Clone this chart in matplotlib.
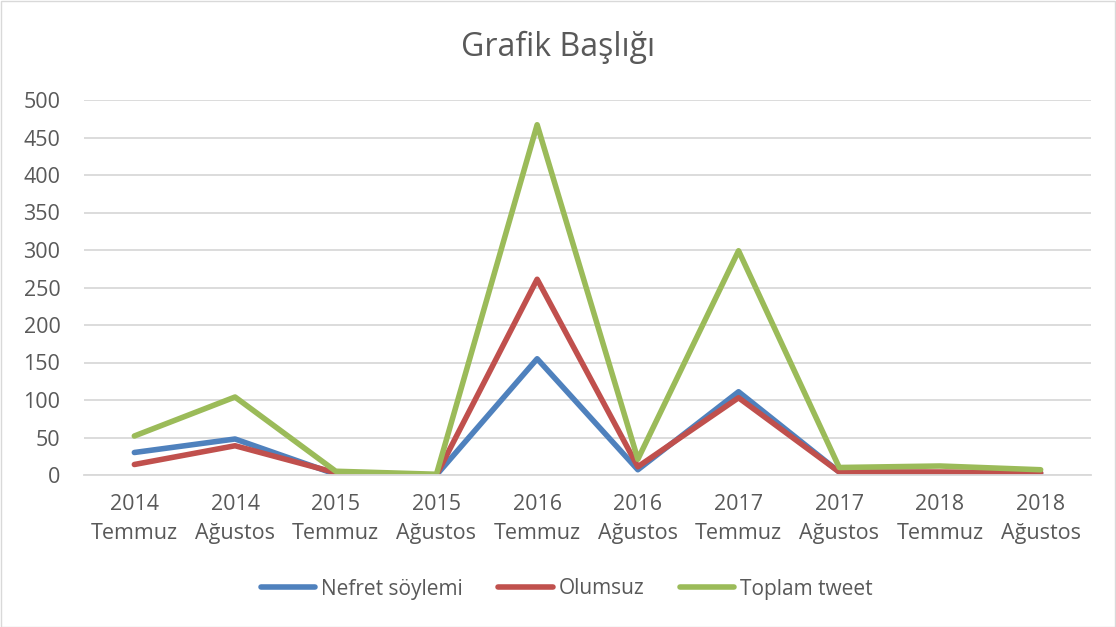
import matplotlib
matplotlib.use('Agg')
from matplotlib import pyplot as plt
from matplotlib.patches import Rectangle

categories = ['2014\nTemmuz', '2014\nAğustos', '2015\nTemmuz', '2015\nAğustos', '2016\nTemmuz',
              '2016\nAğustos', '2017\nTemmuz', '2017\nAğustos', '2018\nTemmuz', '2018\nAğustos']
nefret = [30, 48, 1, 0, 155, 7, 111, 4, 3, 2]
olumsuz = [14, 39, 3, 0, 261, 11, 103, 4, 4, 3]
toplam = [52, 104, 5, 1, 467, 21, 299, 10, 12, 7]
yticks = [0, 50, 100, 150, 200, 250, 300, 350, 400, 450, 500]

plt.rcParams['font.family'] = ['Open Sans', 'DejaVu Sans']

fig = plt.figure(figsize=(11.16, 6.27), dpi=100)
ax = fig.add_axes([84 / 1116, 1 - 475 / 627, (1091 - 84) / 1116, 375 / 627])

x = [i + 0.5 for i in range(len(categories))]
ax.plot(x, nefret, color='#4F81BD', lw=4, label='Nefret söylemi', solid_capstyle='round')
ax.plot(x, olumsuz, color='#C0504D', lw=4, label='Olumsuz', solid_capstyle='round')
ax.plot(x, toplam, color='#9BBB59', lw=4, label='Toplam tweet', solid_capstyle='round')

ax.set_xlim(0, len(categories))
ax.set_ylim(0, 500)
ax.set_yticks(yticks)
ax.set_xticks(x)
ax.set_xticklabels(categories, fontsize=15.5, color='#595959', linespacing=1.45)
ax.tick_params(axis='y', labelsize=15.5, labelcolor='#595959', length=0, pad=17)
ax.tick_params(axis='x', length=0, pad=14)
ax.grid(axis='y', color='#D9D9D9', lw=1.3)
ax.set_axisbelow(True)
for s in ['top', 'right', 'left']:
    ax.spines[s].set_visible(False)
ax.spines['bottom'].set_color('#D9D9D9')
ax.spines['bottom'].set_linewidth(1.3)

fig.text(0.5, 1 - 47 / 627, 'Grafik Başlığı', ha='center', va='center', fontsize=23, color='#595959')

fig.legend(loc='center', bbox_to_anchor=(567 / 1116, 1 - 589 / 627), ncol=3, frameon=False,
           fontsize=15, handlelength=2.6, columnspacing=1.7, handletextpad=0.3,
           labelcolor='#595959')

fig.patches.append(Rectangle((0.5 / 1116, 0.5 / 627), 1 - 1.5 / 1116, 1 - 1.5 / 627,
                             transform=fig.transFigure, fill=False, edgecolor='#D9D9D9', lw=1))

fig.savefig('out.png', dpi=100)
